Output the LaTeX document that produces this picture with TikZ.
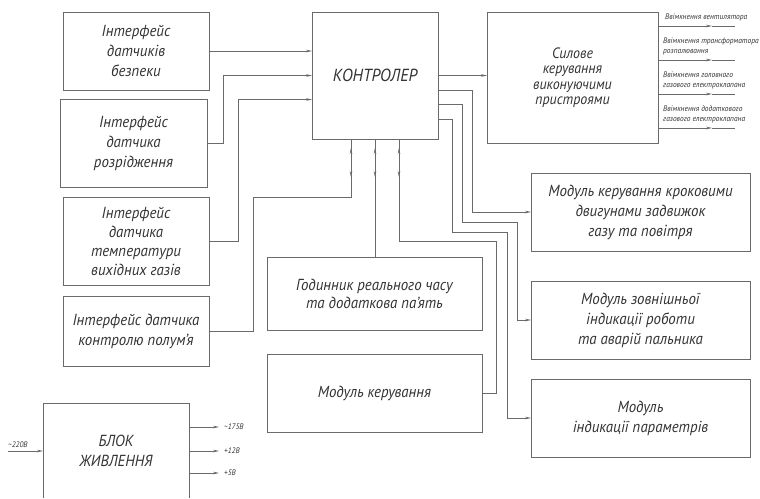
\documentclass[tikz,border=0pt]{standalone}
\usepackage{fontspec}
\setmainfont{PT Sans}[FakeStretch=0.93]
\usetikzlibrary{arrows.meta,calc,decorations.markings}
\definecolor{lc}{HTML}{6A6A6A}
\definecolor{tc}{HTML}{333333}

\begin{document}
\begin{tikzpicture}[x=1pt,y=-1pt,
  line/.style={draw=lc, line width=0.7pt},
  blk/.style={draw=lc, line width=0.8pt, inner sep=0pt, outer sep=0pt,
    align=center, text=tc, font=\fontsize{16}{20}\selectfont\itshape},
  arr/.style={line, -{Stealth[length=6pt,width=2.6pt]}},
  lbl/.style={text=tc, font=\fontsize{8}{9.5}\selectfont\itshape,
    inner sep=0pt, align=left},
  bidir/.style={line, postaction={decorate, decoration={markings,
    mark=at position 9pt with {\arrowreversed{Stealth[length=6pt,width=2.6pt]}},
    mark=at position 38pt with {\arrow{Stealth[length=6pt,width=2.6pt]}}}}},
]
\useasboundingbox (0,0) rectangle (760,498);

% sensor interfaces
\node[blk, minimum width=146pt, minimum height=78pt] (b1) at (136,51)
  {Інтерфейс\\датчиків\\безпеки};
\node[blk, minimum width=147pt, minimum height=88pt] (b2) at (133.5,143)
  {Інтерфейс\\датчика\\розрідження};
\node[blk, minimum width=146pt, minimum height=88pt, font=\fontsize{16}{19}\selectfont\itshape] (b3) at (136,241)
  {Інтерфейс\\датчика\\температури\\вихідних газів};
\node[blk, minimum width=146pt, minimum height=70pt] (b4) at (136,331)
  {Інтерфейс датчика\\контролю полум’я};

% controller
\node[blk, minimum width=126pt, minimum height=127pt, font=\fontsize{17.5}{20}\selectfont\itshape] (ctl) at (375,75.5)
  {КОНТРОЛЕР};

% power switching
\node[blk, minimum width=171pt, minimum height=131pt,
  font=\fontsize{15}{15.5}\selectfont\itshape] (pwr) at (572.5,77.5)
  {Силове\\керування\\виконуючими\\пристроями};

% right-hand modules
\node[blk, minimum width=219pt, minimum height=78pt] (stp) at (640.5,212)
  {Модуль керування кроковими\\двигунами задвижок\\газу та повітря};
\node[blk, minimum width=219pt, minimum height=78pt] (ind) at (640.5,320)
  {Модуль зовнішньої\\індикації роботи\\та аварій пальника};
\node[blk, minimum width=219pt, minimum height=78pt] (par) at (640.5,418)
  {Модуль\\індикації параметрів};

% lower middle modules
\node[blk, minimum width=215pt, minimum height=73pt, font=\fontsize{16}{18}\selectfont\itshape] (clk) at (374.5,293.5)
  {Годинник реального часу\\та додаткова па’ять};
\node[blk, minimum width=215pt, minimum height=78pt] (mod) at (374.5,393)
  {Модуль керування};

% power supply unit (open at the bottom edge)
\node[blk, draw=none, minimum width=146pt, minimum height=95pt] (psu) at (116,450.5)
  {БЛОК\\ЖИВЛЕННЯ};
\draw[line, line width=0.8pt] (psu.south west) |- (psu.north east) -- (psu.south east);

% inputs to the controller
\draw[arr] (b1.east) -- (b1.east -| ctl.west);
\draw[arr] (b2.east) -- ++(16,0) |- (ctl.west);
\draw[arr] (b3.east) -- ++(29,0) |- ([yshift=-24pt]ctl.west);

% bidirectional links below the controller
\draw[bidir] ([xshift=-24pt]ctl.south) -- ++(0,58) -| ($(b4.east)+(44,0)$) -- (b4.east);
\draw[bidir] (ctl.south) -- (ctl.south |- clk.north);
\draw[bidir] ([xshift=24pt]ctl.south) -- ++(0,102) -| ($(mod.east)+(14,0)$) -- (mod.east);

% outputs of the controller
\draw[arr] (ctl.east) -- (ctl.east -| pwr.west);
\draw[arr] ([yshift=-14.5pt]ctl.east) -| ($(stp.west)+(-59,0)$) -- (stp.west);
\draw[arr] ([yshift=-29pt]ctl.east) -| ($(ctl.east)+(24,146.5)$) -| ($(ind.west)+(-14,0)$) -- (ind.west);
\draw[arr] ([yshift=-43.5pt]ctl.east) -| ($(ctl.east)+(14,156.5)$) -| ($(par.west)+(-24,0)$) -- (par.west);

% switched outputs
\foreach \yy/\nm in {26/o1, 60/o2, 94/o3, 128/o4} {
  \coordinate (\nm m) at (712,\yy);
  \coordinate (\nm) at (735,\yy);
  \draw[arr] (pwr.east |- \nm) -- (\nm m);
  \draw[line] (\nm m) -- (\nm);
}
\node[lbl, anchor=south west] (t1) at (665,21) {Ввімкнення вентилятора};
\node[lbl, anchor=south west] (t2) at (663,55) {Ввімкнення трансформатора\\розпалювання};
\node[lbl, anchor=south west] (t3) at (663,89) {Ввімкнення головного\\газового електроклапана};
\node[lbl, anchor=south west] (t4) at (663,123) {Ввімкнення додаткового\\газового електроклапана};

% power supply input and outputs
\coordinate (vin) at (8,451);
\draw[arr] (vin) -- (vin -| psu.west);
\node[lbl, anchor=south west] (tin) at (8,448) {\textasciitilde220В};
\foreach \yy/\nm/\tx in {427/v1/\textasciitilde175В, 451/v2/+12В, 473/v3/+5В} {
  \coordinate (\nm) at (219,\yy);
  \draw[arr] (psu.east |- \nm) -- (\nm);
  \node[lbl, anchor=west] at (224,\yy) {\tx};
}
\end{tikzpicture}
\end{document}
